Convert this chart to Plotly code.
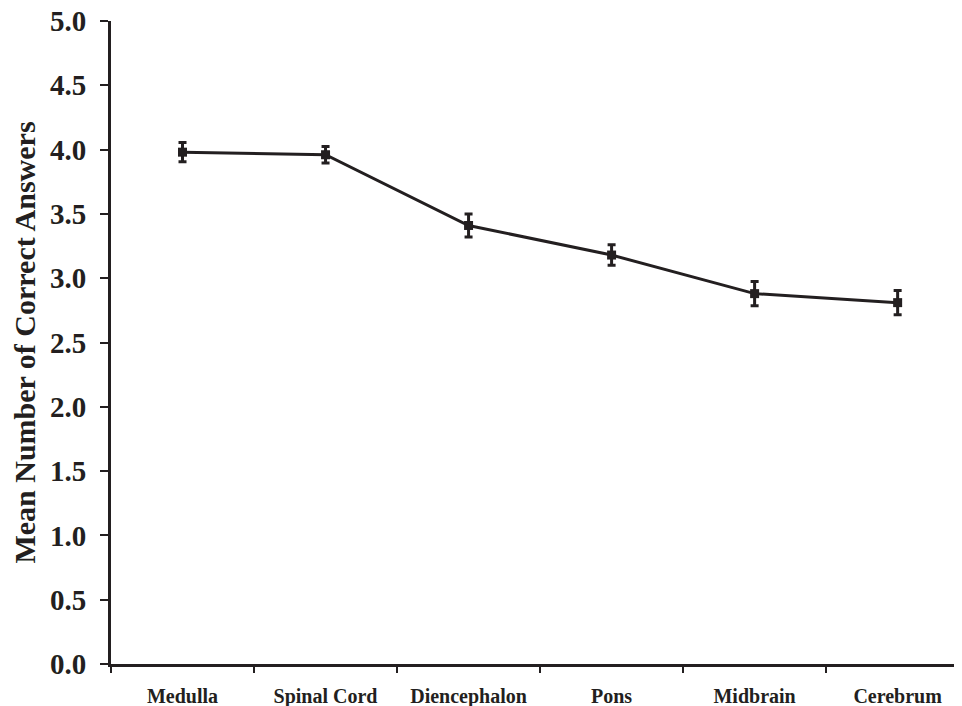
import plotly.graph_objects as go

regions = ["Medulla", "Spinal Cord", "Diencephalon", "Pons", "Midbrain", "Cerebrum"]
means = [3.98, 3.96, 3.41, 3.18, 2.88, 2.81]
errors = [0.075, 0.065, 0.09, 0.08, 0.095, 0.095]
y_ticks = [0.0, 0.5, 1.0, 1.5, 2.0, 2.5, 3.0, 3.5, 4.0, 4.5, 5.0]
y_tick_labels = [f"{v:.1f}" for v in y_ticks]

ink = "#231f20"
font_family = "Liberation Serif, Times New Roman, serif"

fig = go.Figure()
fig.add_trace(go.Scatter(
    x=regions, y=means, mode="lines+markers",
    line=dict(color=ink, width=3),
    marker=dict(symbol="square", size=9, color=ink),
    error_y=dict(type="data", array=errors, visible=True, color=ink, thickness=3, width=4),
    showlegend=False,
    cliponaxis=False,
))

# The page body has an 8px default margin, so the figure is sized to fit the window.
fig.update_layout(
    width=954, height=698,
    margin=dict(l=103, r=0, t=13, b=42, autoexpand=False),
    paper_bgcolor="white", plot_bgcolor="white",
    font=dict(family=font_family, color=ink),
    xaxis=dict(
        range=[-0.5, 5.45],
        automargin=False,
        showline=True, linecolor=ink, linewidth=3,
        ticks="outside", tickson="boundaries", ticklen=6, tickwidth=2, tickcolor=ink,
        tickfont=dict(size=20, family=font_family, color=ink, weight="bold"),
        showgrid=False, zeroline=False,
        ticklabelstandoff=12,
        ticklabeloverflow="allow",
    ),
    yaxis=dict(
        range=[0, 5],
        automargin=False,
        tickvals=y_ticks, ticktext=y_tick_labels,
        showline=True, linecolor=ink, linewidth=3,
        ticks="outside", ticklen=8, tickwidth=2, tickcolor=ink,
        tickfont=dict(size=29, family=font_family, color=ink, weight="bold"),
        showgrid=False, zeroline=False,
        ticklabelstandoff=8,
        ticklabeloverflow="allow",
        title=dict(text="Mean Number of Correct Answers",
                   font=dict(size=30, family=font_family, color=ink, weight="bold"),
                   standoff=17),
    ),
)

fig.write_html("out.html")
